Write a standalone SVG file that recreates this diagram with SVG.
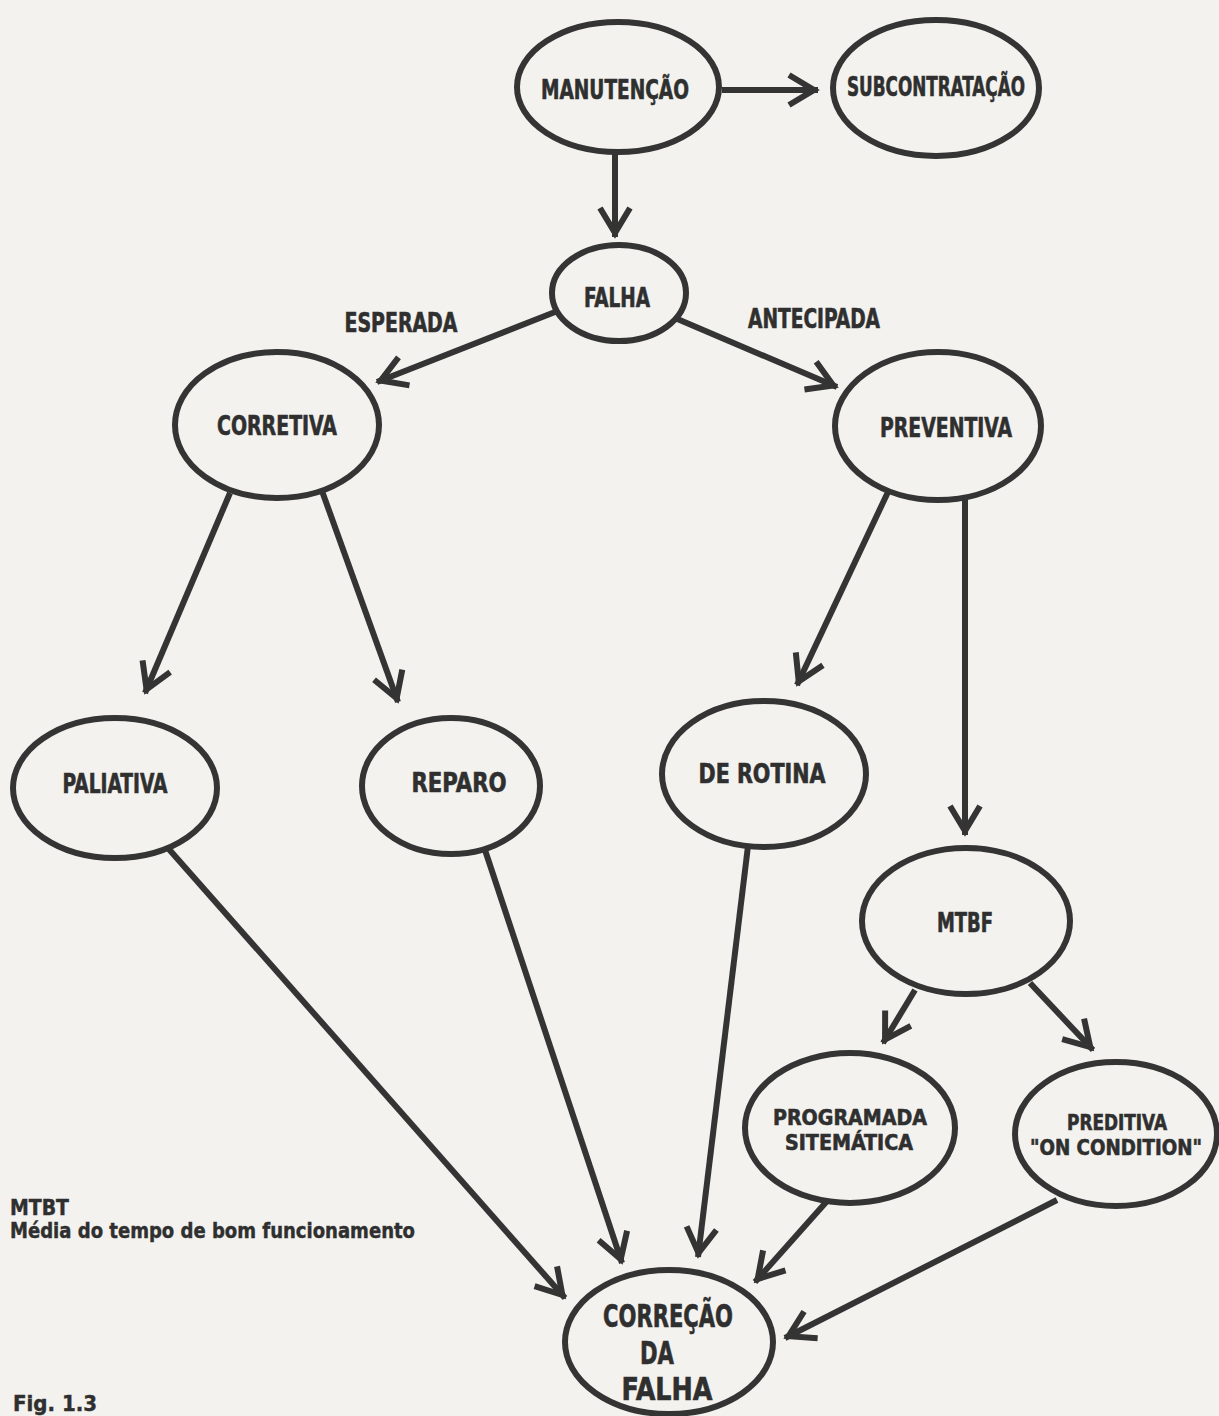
<svg xmlns="http://www.w3.org/2000/svg" width="1219" height="1416" viewBox="0 0 1219 1416">
<style>
.node ellipse{fill:none;stroke:#343434;stroke-width:6}
.lbl{font-family:"Liberation Sans Narrow","DejaVu Sans Condensed","Liberation Sans",sans-serif;font-weight:bold;fill:#2f2f2f;stroke:#2f2f2f;stroke-width:0.6;text-anchor:middle;font-size:26px}
.two{font-size:22px}
.big{font-size:32px}
.note{font-family:"Liberation Sans Narrow","DejaVu Sans Condensed","Liberation Sans",sans-serif;font-weight:bold;fill:#2f2f2f;stroke:#2f2f2f;stroke-width:0.4;font-size:21px}
.edges line{stroke:#343434;stroke-width:6;marker-end:url(#ah)}
</style>
<defs>
<marker id="ah" markerUnits="userSpaceOnUse" markerWidth="60" markerHeight="60" viewBox="-40 -30 60 60" refX="4" refY="0" orient="auto">
<path d="M-25,-15 L0,0 L-25,15" fill="none" stroke="#343434" stroke-width="6" stroke-linejoin="miter"/>
</marker>
</defs>
<rect x="0" y="0" width="1219" height="1416" fill="#f3f2ee"/>

<g class="edges" id="connectors">
<line x1="722" y1="90" x2="818" y2="90"/>
<line x1="615" y1="152" x2="615" y2="237"/>
<line x1="555" y1="312" x2="377" y2="382"/>
<line x1="675" y1="318" x2="837" y2="387"/>
<line x1="230" y1="493" x2="145" y2="693"/>
<line x1="322" y1="491" x2="398" y2="702"/>
<line x1="888" y1="492" x2="797" y2="685"/>
<line x1="965" y1="499" x2="965" y2="835"/>
<line x1="915" y1="990" x2="883" y2="1043"/>
<line x1="1030" y1="983" x2="1093" y2="1050"/>
<line x1="167" y1="847" x2="565" y2="1298"/>
<line x1="485" y1="850" x2="622" y2="1263"/>
<line x1="748" y1="846" x2="698" y2="1257"/>
<line x1="828" y1="1200" x2="755" y2="1282"/>
<line x1="1057" y1="1200" x2="785" y2="1338"/>
</g>

<g class="node" id="manutencao">
<ellipse cx="618" cy="87" rx="101" ry="65"/>
<text class="lbl" x="615" y="99" textLength="148" lengthAdjust="spacingAndGlyphs">MANUTENÇÃO</text>
</g>
<g class="node" id="subcontratacao">
<ellipse cx="936" cy="88" rx="103" ry="68"/>
<text class="lbl" x="936" y="96" textLength="178" lengthAdjust="spacingAndGlyphs">SUBCONTRATAÇÃO</text>
</g>
<g class="node" id="falha">
<ellipse cx="619" cy="293" rx="67" ry="48"/>
<text class="lbl" x="617" y="307" textLength="66" lengthAdjust="spacingAndGlyphs">FALHA</text>
</g>
<g id="edge-labels">
<text class="lbl" x="401" y="332" textLength="113" lengthAdjust="spacingAndGlyphs">ESPERADA</text>
<text class="lbl" x="814" y="328" textLength="132" lengthAdjust="spacingAndGlyphs">ANTECIPADA</text>
</g>
<g class="node" id="corretiva">
<ellipse cx="277" cy="425" rx="102" ry="73"/>
<text class="lbl" x="277" y="435" textLength="120" lengthAdjust="spacingAndGlyphs">CORRETIVA</text>
</g>
<g class="node" id="preventiva">
<ellipse cx="938" cy="426" rx="103" ry="74"/>
<text class="lbl" x="946" y="437" textLength="132" lengthAdjust="spacingAndGlyphs">PREVENTIVA</text>
</g>
<g class="node" id="paliativa">
<ellipse cx="115" cy="788" rx="102" ry="70"/>
<text class="lbl" x="115" y="793" textLength="105" lengthAdjust="spacingAndGlyphs">PALIATIVA</text>
</g>
<g class="node" id="reparo">
<ellipse cx="451" cy="786" rx="89" ry="68"/>
<text class="lbl" x="459" y="792" textLength="95" lengthAdjust="spacingAndGlyphs">REPARO</text>
</g>
<g class="node" id="derotina">
<ellipse cx="764" cy="774" rx="102" ry="73"/>
<text class="lbl" x="762" y="783" textLength="127" lengthAdjust="spacingAndGlyphs">DE ROTINA</text>
</g>
<g class="node" id="mtbf">
<ellipse cx="966" cy="921" rx="104" ry="73"/>
<text class="lbl" x="965" y="932" textLength="56" lengthAdjust="spacingAndGlyphs">MTBF</text>
</g>
<g class="node" id="programada">
<ellipse cx="850" cy="1128" rx="105" ry="75"/>
<text class="lbl two" x="850" y="1125" textLength="154" lengthAdjust="spacingAndGlyphs">PROGRAMADA</text>
<text class="lbl two" x="849" y="1150" textLength="128" lengthAdjust="spacingAndGlyphs">SITEMÁTICA</text>
</g>
<g class="node" id="preditiva">
<ellipse cx="1116" cy="1134" rx="101" ry="72"/>
<text class="lbl two" x="1117" y="1130" textLength="100" lengthAdjust="spacingAndGlyphs">PREDITIVA</text>
<text class="lbl two" x="1116" y="1155" textLength="172" lengthAdjust="spacingAndGlyphs">"ON CONDITION"</text>
</g>
<g class="node" id="correcao">
<ellipse cx="669" cy="1342" rx="104" ry="72"/>
<text class="lbl big" x="668" y="1327" textLength="130" lengthAdjust="spacingAndGlyphs">CORREÇÃO</text>
<text class="lbl big" x="657" y="1364" textLength="34" lengthAdjust="spacingAndGlyphs">DA</text>
<text class="lbl big" x="667" y="1400" textLength="91" lengthAdjust="spacingAndGlyphs">FALHA</text>
</g>
<g id="notes">
<text class="note" x="10" y="1215">MTBT</text>
<text class="note" x="10" y="1238" textLength="405" lengthAdjust="spacingAndGlyphs">Média do tempo de bom funcionamento</text>
<text class="note" x="13" y="1411" textLength="84" lengthAdjust="spacingAndGlyphs">Fig. 1.3</text>
</g>
</svg>
